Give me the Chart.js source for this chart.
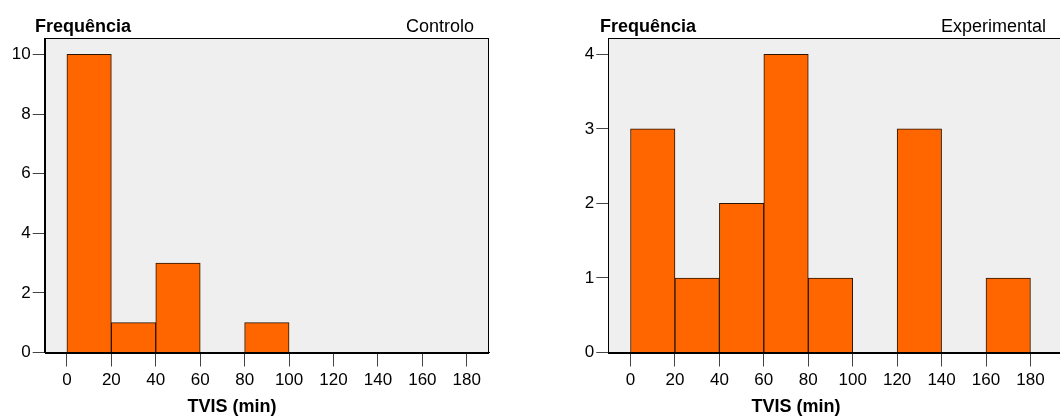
<!DOCTYPE html>
<html>
<head>
<meta charset="utf-8">
<script src="https://cdn.jsdelivr.net/npm/chart.js@4.4.1/dist/chart.umd.min.js"></script>
<style>
  html, body { margin: 0; padding: 0; background: #fff; overflow: hidden; width: 1060px; height: 416px; }
  body { position: relative; font-family: "Liberation Sans", Arial, sans-serif; }
  .panel { position: absolute; top: 0; height: 416px; }
  .lbl { position: absolute; font-size: 18px; line-height: 18px; white-space: nowrap; color: #000; }
  .b { font-weight: bold; }
  .mid { transform: translateX(-50%); }
</style>
</head>
<body>
<div class="panel" style="left:0;width:530px"><canvas id="controlo" width="530" height="416"></canvas></div>
<div class="panel" style="left:530px;width:540px"><canvas id="experimental" width="540" height="416"></canvas></div>

<div class="lbl b" style="left:35px;top:17px">Frequência</div>
<div class="lbl" style="right:586px;top:17px">Controlo</div>
<div class="lbl b mid" style="left:232px;top:397px">TVIS (min)</div>

<div class="lbl b" style="left:600px;top:17px">Frequência</div>
<div class="lbl" style="right:14px;top:17px">Experimental</div>
<div class="lbl b mid" style="left:796px;top:397px">TVIS (min)</div>

<script>
// Histogram bins: TVIS in minutes, 20-minute classes starting at these values
const binStart = [0, 20, 40, 60, 80, 100, 120, 140, 160];
const binWidth = 20;

// Frequencies per class
const controloCounts     = [10, 1, 3, 0, 1, 0, 0, 0, 0];
const experimentalCounts = [3, 1, 2, 4, 1, 0, 3, 0, 1];

// Axis tick labels
const xTicks = [0, 20, 40, 60, 80, 100, 120, 140, 160, 180];
const controloYTicks = [0, 2, 4, 6, 8, 10];
const experimentalYTicks = [0, 1, 2, 3, 4];

const FONT = '"Liberation Sans", Arial, sans-serif';

// Grey plot background and black frame around the chart area
const framePlugin = {
  id: 'frame',
  beforeDraw(chart) {
    const a = chart.chartArea, ctx = chart.ctx;
    ctx.save();
    ctx.fillStyle = '#efefef';
    ctx.fillRect(a.left, a.top, a.right - a.left, a.bottom - a.top);
    ctx.restore();
  },
  afterDraw(chart) {
    const a = chart.chartArea, ctx = chart.ctx;
    const l = Math.round(a.left) + 0.5, t = Math.round(a.top) + 0.5;
    const r = Math.round(a.right) - 0.5, btm = Math.round(a.bottom) + 0.5;
    ctx.save();
    ctx.strokeStyle = '#000';
    ctx.lineWidth = 1;
    ctx.strokeRect(l, t, r - l, btm - t);
    ctx.restore();
  }
};

function histogram(id, counts, yTicks, yMax, xMax, axisWidth, padRight) {
  const points = binStart.map((s, i) => ({ x: s + binWidth / 2, y: counts[i] > 0 ? counts[i] : null }));
  return new Chart(document.getElementById(id), {
    type: 'bar',
    data: {
      datasets: [{
        data: points,
        backgroundColor: '#ff6600',
        borderColor: '#2a1500',
        borderWidth: 1,
        borderSkipped: 'start',
        barPercentage: 1,
        categoryPercentage: 1
      }]
    },
    options: {
      responsive: false,
      animation: false,
      events: [],
      layout: { padding: { top: 38, right: padRight, bottom: 0, left: 0 } },
      plugins: { legend: { display: false }, tooltip: { enabled: false } },
      scales: {
        x: {
          type: 'linear',
          min: -10,
          max: xMax,
          offset: false,
          afterBuildTicks: s => { s.ticks = xTicks.map(v => ({ value: v })); },
          afterFit: s => { s.height = 63.5; },
          grid: { offset: false, drawOnChartArea: false, drawTicks: true, tickLength: 14, color: '#444' },
          border: { display: true, color: '#000', z: 1 },
          ticks: { autoSkip: false, maxRotation: 0, padding: 4, color: '#000', font: { family: FONT, size: 17 } }
        },
        y: {
          min: 0,
          max: yMax,
          afterBuildTicks: s => { s.ticks = yTicks.map(v => ({ value: v })); },
          afterFit: s => { s.width = axisWidth; },
          grid: { drawOnChartArea: false, drawTicks: true, tickLength: 12, color: '#444' },
          border: { display: true, color: '#000', z: 1 },
          ticks: { padding: 2, color: '#000', font: { family: FONT, size: 17 } }
        }
      }
    },
    plugins: [framePlugin]
  });
}

histogram('controlo', controloCounts, controloYTicks, 10.55, 190, 44.7, 41);
histogram('experimental', experimentalCounts, experimentalYTicks, 4.22, 197.8, 78.3, 0);
</script>
</body>
</html>
